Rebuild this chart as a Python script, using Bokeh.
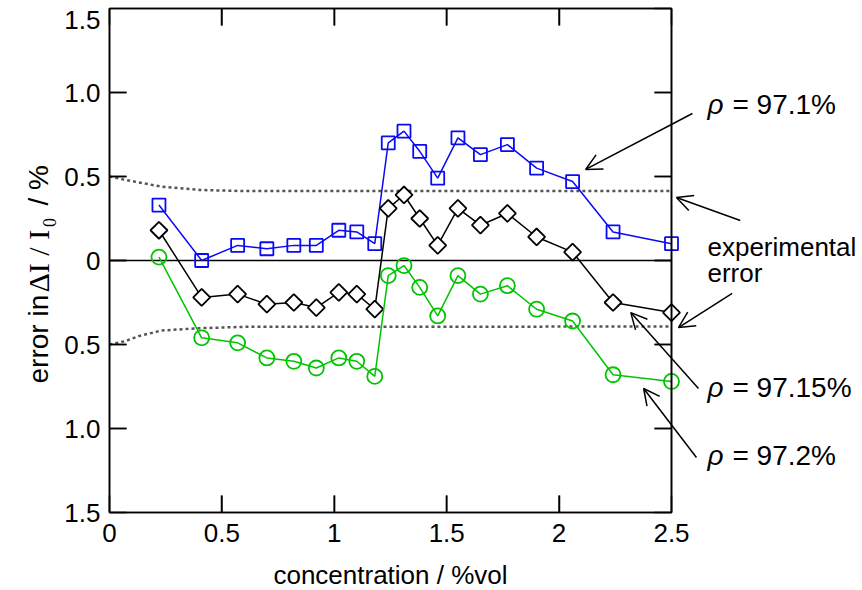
import math
from bokeh.plotting import figure
from bokeh.models import (Range1d, LinearAxis, FixedTicker, Label, Arrow, OpenHead)
from bokeh.embed import file_html
from bokeh.resources import INLINE

# ---------------- data ----------------
conc = [0.22, 0.41, 0.57, 0.70, 0.82, 0.92, 1.02, 1.10, 1.18, 1.24,
        1.31, 1.38, 1.46, 1.55, 1.65, 1.77, 1.90, 2.06, 2.24, 2.50]
rho_971 = [0.33, 0.00, 0.09, 0.07, 0.09, 0.09, 0.18, 0.17, 0.10, 0.70,
           0.77, 0.65, 0.49, 0.73, 0.63, 0.69, 0.55, 0.47, 0.17, 0.10]
rho_9715 = [0.18, -0.22, -0.20, -0.26, -0.25, -0.28, -0.19, -0.20, -0.29, 0.31,
            0.39, 0.25, 0.09, 0.31, 0.21, 0.28, 0.14, 0.05, -0.25, -0.31]
rho_972 = [0.02, -0.46, -0.49, -0.58, -0.60, -0.64, -0.58, -0.60, -0.69, -0.09,
           -0.03, -0.16, -0.33, -0.09, -0.20, -0.15, -0.29, -0.36, -0.68, -0.72]

err_x = [0.0, 0.07, 0.13, 0.23, 0.40, 0.60, 2.50]
err_hi = [0.50, 0.48, 0.465, 0.44, 0.42, 0.413, 0.413]
err_lo = [-0.50, -0.48, -0.45, -0.417, -0.403, -0.395, -0.393]

x_ticks = [0, 0.5, 1, 1.5, 2, 2.5]
x_tick_labels = ["0", "0.5", "1", "1.5", "2", "2.5"]
y_ticks = [-1.5, -1.0, -0.5, 0, 0.5, 1.0, 1.5]
y_tick_labels = ["1.5", "1.0", "0.5", "0", "0.5", "1.0", "1.5"]

FONT = "Liberation Sans"
SERIF = "Liberation Serif"
FS = "26px"

# plot box position inside the 862x590 canvas (pixels)
W, H = 862, 590
BOX_L, BOX_R, BOX_T, BOX_B = 109, 671, 8, 512
xmin, xmax = x_ticks[0], x_ticks[-1]
ymin, ymax = y_ticks[0], y_ticks[-1]
sx = (BOX_R - BOX_L) / (xmax - xmin)
sy = (BOX_B - BOX_T) / (ymax - ymin)
x_range = Range1d(xmin - BOX_L / sx, xmax + (W - BOX_R) / sx)
y_range = Range1d(ymin - (H - BOX_B) / sy, ymax + BOX_T / sy)

p = figure(width=W, height=H, output_backend="svg", toolbar_location=None,
           x_range=x_range, y_range=y_range,
           x_axis_location=None, y_axis_location=None,
           min_border_left=0, min_border_right=0, min_border_top=0, min_border_bottom=0)
p.grid.visible = False
p.outline_line_color = None
p.background_fill_color = "white"
p.border_fill_color = "white"


def make_axis(loc, ticks, labels, bounds, show_labels):
    ax = LinearAxis(ticker=FixedTicker(ticks=ticks), fixed_location=loc, bounds=bounds)
    ax.minor_tick_line_color = None
    ax.major_tick_in = 17
    ax.major_tick_out = 0
    ax.major_tick_line_width = 1.5
    ax.major_tick_line_color = "black"
    ax.axis_line_width = 1.5
    ax.axis_line_color = "black"
    ax.major_label_overrides = {t: l for t, l in zip(ticks, labels)}
    if show_labels:
        ax.major_label_text_font = FONT
        ax.major_label_text_font_size = FS
        ax.major_label_text_color = "black"
    else:
        ax.major_label_text_color = None
    return ax


bottom = make_axis(ymin, x_ticks, x_tick_labels, (xmin, xmax), True)
bottom.major_label_standoff = 11
bottom.axis_label = "concentration / %vol"
bottom.axis_label_text_font = FONT
bottom.axis_label_text_font_size = FS
bottom.axis_label_text_font_style = "normal"
bottom.axis_label_text_color = "black"
bottom.axis_label_standoff = 15
p.add_layout(bottom, "below")

p.add_layout(make_axis(ymax, x_ticks, x_tick_labels, (xmin, xmax), False), "above")

# left axis: top label is drawn separately (nudged down to fit in the canvas)
left = make_axis(xmin, y_ticks[:-1], y_tick_labels[:-1], (ymin, ymax), True)
left.major_label_standoff = 9
p.add_layout(left, "left")
p.add_layout(make_axis(xmax, y_ticks, y_tick_labels, (ymin, ymax), False), "right")

p.add_layout(Label(x=xmin, y=ymax, text=y_tick_labels[-1], x_offset=-9, y_offset=-11,
                   text_align="right", text_baseline="middle",
                   text_font=FONT, text_font_size=FS, text_color="black"))

# zero line
p.line([xmin, xmax], [0, 0], line_color="black", line_width=1.5)

# experimental error (dotted)
p.line(err_x, err_hi, line_color="#555555", line_width=2.5, line_dash="3 3")
p.line(err_x, err_lo, line_color="#555555", line_width=2.5, line_dash="3 3")

BLUE = "#0a0af5"
GREEN = "#00c400"

p.line(conc, rho_971, line_color=BLUE, line_width=1.5)
p.scatter(conc, rho_971, marker="square", size=13, fill_color=None,
          line_color=BLUE, line_width=1.8)

p.line(conc, rho_9715, line_color="black", line_width=1.5)
p.scatter(conc, rho_9715, marker="square", angle=math.pi / 4, size=12,
          fill_color="white", line_color="black", line_width=1.8)

p.line(conc, rho_972, line_color=GREEN, line_width=1.5)
p.scatter(conc, rho_972, marker="circle", size=15, fill_color=None,
          line_color=GREEN, line_width=1.8)

# ---------------- frame box with inward ticks, as one continuous path ----------------
TICK = 17
tx_len = TICK / sx
ty_len = TICK / sy
bx, by = [xmin], [ymin]
for t in x_ticks[1:-1]:                      # bottom edge, left -> right
    bx += [t, t, t]
    by += [ymin, ymin + ty_len, ymin]
bx.append(xmax); by.append(ymin)
for t in y_ticks[1:-1]:                      # right edge, bottom -> top
    bx += [xmax, xmax - tx_len, xmax]
    by += [t, t, t]
bx.append(xmax); by.append(ymax)
for t in reversed(x_ticks[1:-1]):            # top edge, right -> left
    bx += [t, t, t]
    by += [ymax, ymax - ty_len, ymax]
bx.append(xmin); by.append(ymax)
for t in reversed(y_ticks[1:-1]):            # left edge, top -> bottom
    bx += [xmin, xmin + tx_len, xmin]
    by += [t, t, t]
bx.append(xmin); by.append(ymin)
p.line(bx, by, line_color="black", line_width=1.6)

# ---------------- y axis label (mixed fonts) ----------------
ylab_x = -0.316


def vlab(y, text, font, size, xo=0):
    p.add_layout(Label(x=ylab_x, y=y, text=text, angle=math.pi / 2, x_offset=xo,
                       text_align="left", text_baseline="middle",
                       text_font=font, text_font_size=size, text_color="black"))


vlab(-0.732, "error in", FONT, "28px")
vlab(-0.190, "ΔI / I", SERIF, "30px")
vlab(0.200, "0", SERIF, "18px", xo=11)
vlab(0.327, "/ %", FONT, "28px")

# ---------------- annotations on the right ----------------
ann_x = 2.66


def rho_label(y, rest):
    p.add_layout(Label(x=ann_x, y=y, text="ρ", text_align="left", text_baseline="middle",
                       text_font=FONT, text_font_style="italic", text_font_size="28px",
                       text_color="black"))
    p.add_layout(Label(x=ann_x, y=y, x_offset=25, text=rest, text_align="left",
                       text_baseline="middle", text_font=FONT, text_font_size="28px",
                       text_color="black"))


rho_label(0.929, "= 97.1%")
rho_label(-0.756, "= 97.15%")
rho_label(-1.161, "= 97.2%")
for yy, t in [(0.083, "experimental"), (-0.077, "error")]:
    p.add_layout(Label(x=ann_x, y=yy, text=t, text_align="left", text_baseline="middle",
                       text_font=FONT, text_font_size=FS, text_color="black"))

arrows = [((2.593, 0.875), (2.118, 0.542)),
          ((2.806, 0.238), (2.522, 0.375)),
          ((2.770, -0.196), (2.531, -0.399)),
          ((2.620, -0.762), (2.319, -0.310)),
          ((2.611, -1.173), (2.376, -0.762))]
for (xs, ys), (xe, ye) in arrows:
    p.add_layout(Arrow(x_start=xs, y_start=ys, x_end=xe, y_end=ye,
                       line_color="black", line_width=1.5,
                       end=OpenHead(size=16, line_color="black", line_width=1.5)))

open("out.html", "w").write(file_html(p, INLINE))
